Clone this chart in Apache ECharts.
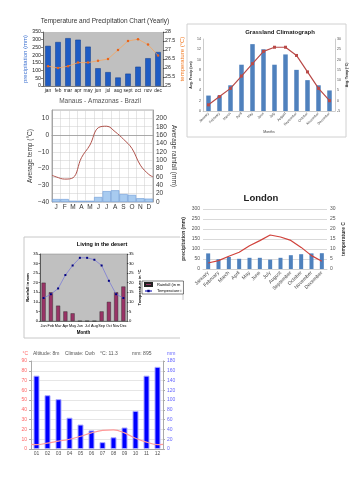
<!DOCTYPE html>
<html>
<head>
<meta charset="utf-8">
<script src="https://cdn.jsdelivr.net/npm/echarts@6/dist/echarts.min.js"></script>
<style>
html, body { margin: 0; padding: 0; background: #fff; }
#main { width: 354px; height: 500px; }
</style>
</head>
<body>
<div id="main"></div>
<script>
// chart 1 : Temperature and Precipitation Chart (Yearly)
const yearMonths = ['jan', 'feb', 'mar', 'apr', 'may', 'jun', 'jul', 'aug', 'sept', 'oct', 'nov', 'dec'];
const yearPrecip = [260, 285, 310, 300, 255, 115, 90, 55, 80, 125, 180, 220];
const yearTemp = [26.1, 26.0, 26.1, 26.3, 26.3, 26.4, 26.5, 27.0, 27.5, 27.6, 27.3, 26.7];

// chart 2 : Grassland Climatograph
const grassMonths = ['January', 'February', 'March', 'April', 'May', 'June', 'July', 'August', 'September', 'October', 'November', 'December'];
const grassPrecip = [3, 3, 5, 9, 13, 12, 9, 11, 8, 6, 5, 4];
const grassTemp = [-2, 2, 6, 12, 18, 24, 26, 26, 22, 14, 6, 0];

// chart 3 : Manaus (line runs edge to edge, so it sits on a 0..12 month scale)
const manausMonths = ['J', 'F', 'M', 'A', 'M', 'J', 'J', 'A', 'S', 'O', 'N', 'D'];
const manausRain = [7, 7, 3, 3, 3, 12, 26, 28, 19, 17, 9, 8];
const manausTempPos = [0, 0.5, 1.5, 2.5, 3.5, 4.5, 5.5, 6.5, 7.5, 8.5, 9.5, 10.5, 11.5, 12];
const manausTemp = [-24, -25, -26.3, -25.5, -13.5, -6, 4.4, 5.3, 2, -2.5, -8, -18, -23.5, -25];

// chart 4 : London
const londonMonths = ['January', 'February', 'March', 'April', 'May', 'June', 'July', 'August', 'September', 'October', 'November', 'December'];
const londonPrecip = [78, 49, 60, 51, 56, 56, 47, 56, 69, 74, 78, 79];
const londonTemp = [3.0, 4.2, 6.4, 8.4, 11.6, 14.2, 17.0, 16.0, 14.3, 10.8, 6.7, 3.9];

// chart 5 : Living in the desert
const desertMonths = ['Jan', 'Feb', 'Mar', 'Apr', 'May', 'Jun', 'Jul', 'Aug', 'Sep', 'Oct', 'Nov', 'Dec'];
const desertRain = [20, 15, 8, 5, 4, 0, 0, 0, 5, 10, 15, 18];
const desertTemp = [12, 14, 17, 24, 29, 33, 33, 32, 29, 21, 14, 12];

// chart 6 : climate diagram
const climMonths = ['01', '02', '03', '04', '05', '06', '07', '08', '09', '10', '11', '12'];
const climPrecip = [150, 110, 102, 64, 50, 38, 14, 24, 44, 78, 150, 168];
const climTempPos = [0, 0.5, 1.5, 2.5, 3.5, 4.5, 5.5, 6.5, 7.5, 8.5, 9.5, 10.5, 11.5, 12];
const climTemp = [4.8, 4.5, 6, 8, 10, 13, 16.5, 19, 19.5, 16.5, 11, 7, 4.5, 4.8];

const FONT = 'Liberation Sans';
const pairs = (xs, ys) => xs.map((x, i) => [x, ys[i]]);

function label(text, x, y, size, color, weight, align) {
	return {
		type: 'text',
		x: x,
		y: y,
		style: {
			text: text,
			font: (weight || 'normal') + ' ' + size + 'px ' + FONT,
			fill: color,
			align: align || 'center',
			verticalAlign: 'middle',
			textAlign: align || 'center',
			textVerticalAlign: 'middle',
		},
	};
}

const chart = echarts.init(document.getElementById('main'));

const option = {
	animation: false,
	textStyle: { fontFamily: FONT },
	grid: [
		{ left: 43, top: 32, width: 120, height: 54, show: true, backgroundColor: '#c0c0c0', borderWidth: 0 },
		{ left: 203, top: 39, width: 132, height: 72 },
		{ left: 52, top: 110, width: 101, height: 92, show: true, backgroundColor: '#fff', borderColor: '#999', borderWidth: 0.8 },
		{ left: 203, top: 209, width: 124, height: 60 },
		{ left: 40, top: 254, width: 87, height: 67, show: true, backgroundColor: '#c0c0c0', borderColor: '#808080', borderWidth: 0.5 },
		{ left: 31, top: 361, width: 132, height: 88 },
	],
	xAxis: [
		{
			type: 'category', gridIndex: 0, data: yearMonths,
			axisLabel: { fontSize: 4.8, margin: 2.5, interval: 0, color: '#222' },
			axisTick: { length: 2, lineStyle: { color: '#000', width: 0.5 } },
			axisLine: { lineStyle: { color: '#000', width: 0.5 } },
		},
		{
			type: 'category', gridIndex: 1, data: grassMonths,
			axisLabel: { rotate: 45, fontSize: 3.5, margin: 2, interval: 0, color: '#444' },
			axisTick: { show: false },
			axisLine: { lineStyle: { color: '#aaa', width: 0.6 } },
			name: 'Months', nameLocation: 'middle', nameGap: 18,
			nameTextStyle: { fontSize: 3.5, color: '#444' },
		},
		{
			type: 'category', gridIndex: 2, data: manausMonths,
			axisLabel: { fontSize: 6.5, margin: 2, interval: 0, color: '#333' },
			axisTick: { show: false },
			axisLine: { lineStyle: { color: '#999', width: 0.8 } },
			splitLine: { show: true, interval: 0, lineStyle: { color: '#ccc', width: 0.5 } },
		},
		{ type: 'value', gridIndex: 2, min: 0, max: 12, show: false },
		{
			type: 'category', gridIndex: 3, data: londonMonths,
			axisLabel: { rotate: 45, fontSize: 5, margin: 3, interval: 0, color: '#444' },
			axisTick: { show: false },
			axisLine: { lineStyle: { color: '#d0d0d0' } },
		},
		{
			type: 'category', gridIndex: 4, data: desertMonths,
			axisLabel: { fontSize: 3.8, margin: 3, interval: 0, color: '#000' },
			axisTick: { length: 1.5, lineStyle: { color: '#000', width: 0.5 } },
			axisLine: { lineStyle: { color: '#000', width: 0.5 } },
			name: 'Month', nameLocation: 'middle', nameGap: 9,
			nameTextStyle: { fontSize: 4.5, fontWeight: 'bold', color: '#000' },
		},
		{
			type: 'category', gridIndex: 5, data: climMonths,
			axisLabel: { fontSize: 5, margin: 2, interval: 0, color: '#555' },
			axisTick: { length: 2, interval: 0, lineStyle: { color: '#999' } },
			axisLine: { lineStyle: { color: '#aaa' } },
		},
		{ type: 'value', gridIndex: 5, min: 0, max: 12, show: false },
	],
	yAxis: [
		{
			type: 'value', gridIndex: 0, min: 0, max: 350, interval: 50,
			axisLabel: { fontSize: 5.2, margin: 2, color: '#222' },
			axisLine: { show: true, lineStyle: { color: '#000', width: 0.5 } },
			axisTick: { show: true, length: 2, lineStyle: { width: 0.5 } },
			splitLine: { show: false },
			name: 'precipitation (mm)', nameLocation: 'middle', nameGap: 15,
			nameTextStyle: { fontSize: 6, color: '#3a6fd0' },
		},
		{
			type: 'value', gridIndex: 0, position: 'right', min: 25, max: 28, interval: 0.5,
			axisLabel: { fontSize: 5.2, margin: 2, color: '#222' },
			axisLine: { show: true, lineStyle: { color: '#000', width: 0.5 } },
			axisTick: { show: true, length: 2, lineStyle: { width: 0.5 } },
			splitLine: { show: false },
			name: 'temperature (°C)', nameLocation: 'middle', nameGap: 13,
			nameTextStyle: { fontSize: 6, color: '#f07820' },
		},
		{
			type: 'value', gridIndex: 1, min: 0, max: 14, interval: 2,
			axisLabel: { fontSize: 3.5, margin: 2, color: '#444' },
			axisLine: { show: true, lineStyle: { color: '#aaa', width: 0.6 } },
			splitLine: { show: false },
			name: 'Avg. Precip (cm)', nameLocation: 'middle', nameGap: 7,
			nameTextStyle: { fontSize: 3.5, color: '#333', fontWeight: 'bold' },
		},
		{
			type: 'value', gridIndex: 1, position: 'right', min: -5, max: 30, interval: 5,
			axisLabel: { fontSize: 3.5, margin: 2, color: '#444' },
			axisLine: { show: true, lineStyle: { color: '#aaa', width: 0.6 } },
			splitLine: { show: false },
			name: 'Avg. Temp (°C)', nameLocation: 'middle', nameGap: 7,
			nameTextStyle: { fontSize: 3.5, color: '#333', fontWeight: 'bold' },
		},
		{
			type: 'value', gridIndex: 2, min: -40, max: 15, interval: 5,
			axisLabel: {
				fontSize: 6.5, margin: 3, color: '#333',
				formatter: (v) => (v % 10 === 0 && v <= 10 ? (v < 0 ? '−' + -v : String(v)) : ''),
			},
			axisLine: { show: true, lineStyle: { color: '#999', width: 0.8 } },
			axisTick: { show: false },
			splitLine: { show: true, lineStyle: { color: '#ccc', width: 0.5 } },
			name: 'Average temp (°C)', nameLocation: 'middle', nameGap: 15,
			nameTextStyle: { fontSize: 6.5, color: '#333' },
		},
		{
			type: 'value', gridIndex: 2, position: 'right', min: 0, max: 220, interval: 20,
			axisLabel: { fontSize: 6.5, margin: 3, color: '#333', formatter: (v) => (v <= 200 ? String(v) : '') },
			axisLine: { show: true, lineStyle: { color: '#999', width: 0.8 } },
			axisTick: { show: false },
			splitLine: { show: false },
			name: 'Average rainfall (mm)', nameLocation: 'middle', nameGap: 13, nameRotate: -90,
			nameTextStyle: { fontSize: 6.5, color: '#333' },
		},
		{
			type: 'value', gridIndex: 3, min: 0, max: 300, interval: 50,
			axisLabel: { fontSize: 5, margin: 3, color: '#555' },
			splitLine: { lineStyle: { color: '#d9d9d9' } },
			name: 'precipitation (mm)', nameLocation: 'middle', nameGap: 17,
			nameTextStyle: { fontSize: 5, color: '#333', fontWeight: 'bold' },
		},
		{
			type: 'value', gridIndex: 3, position: 'right', min: 0, max: 30, interval: 5,
			axisLabel: { fontSize: 5, margin: 3, color: '#555' },
			splitLine: { show: false },
			name: 'temperature C', nameLocation: 'middle', nameGap: 14,
			nameTextStyle: { fontSize: 5, color: '#333', fontWeight: 'bold' },
		},
		{
			type: 'value', gridIndex: 4, min: 0, max: 35, interval: 5,
			axisLabel: { fontSize: 4.2, margin: 2, color: '#000' },
			axisLine: { show: true, lineStyle: { color: '#000', width: 0.5 } },
			axisTick: { show: true, length: 1.5, lineStyle: { width: 0.5 } },
			splitLine: { show: false },
			name: 'Rainfall in mm', nameLocation: 'middle', nameGap: 7,
			nameTextStyle: { fontSize: 4.2, color: '#000', fontWeight: 'bold' },
		},
		{
			type: 'value', gridIndex: 4, position: 'right', min: 0, max: 35, interval: 5,
			axisLabel: { fontSize: 4.2, margin: 2, color: '#000' },
			axisLine: { show: true, lineStyle: { color: '#000', width: 0.5 } },
			axisTick: { show: true, length: 1.5, lineStyle: { width: 0.5 } },
			splitLine: { show: false },
			name: 'Temperature in °C', nameLocation: 'middle', nameGap: 6,
			nameTextStyle: { fontSize: 4.2, color: '#000', fontWeight: 'bold' },
		},
		{
			type: 'value', gridIndex: 5, min: 0, max: 90, interval: 10,
			axisLabel: { fontSize: 5, margin: 4, color: '#ff6666' },
			axisLine: { show: true, lineStyle: { color: '#aaa' } },
			axisTick: { show: true, length: 2, lineStyle: { color: '#aaa' } },
			splitLine: { lineStyle: { color: '#e6e6e6' } },
			name: '°C', nameLocation: 'end', nameGap: 5,
			nameTextStyle: { fontSize: 5, color: '#ff6666', align: 'right', padding: [0, 3, 0, 0] },
		},
		{
			type: 'value', gridIndex: 5, position: 'right', min: 0, max: 180, interval: 20,
			axisLabel: { fontSize: 5, margin: 4, color: '#6666ff' },
			axisLine: { show: true, lineStyle: { color: '#aaa' } },
			axisTick: { show: true, length: 2, lineStyle: { color: '#aaa' } },
			splitLine: { show: false },
			name: 'mm', nameLocation: 'end', nameGap: 5,
			nameTextStyle: { fontSize: 5, color: '#6666ff', align: 'left', padding: [0, 0, 0, 4] },
		},
	],
	legend: {
		left: 142, top: 281, orient: 'vertical',
		itemWidth: 7, itemHeight: 3, itemGap: 2, padding: [1, 2, 1, 2],
		backgroundColor: '#fff', borderColor: '#000', borderWidth: 0.5,
		textStyle: { fontSize: 4, color: '#000', width: 26, overflow: 'truncate', ellipsis: '' },
		data: [{ name: 'Rainfall (in mm)', icon: 'rect' }, { name: 'Temperature in °C' }],
	},
	series: [
		{
			type: 'bar', name: 'yearPrecip', xAxisIndex: 0, yAxisIndex: 0, data: yearPrecip, barWidth: 5.5,
			itemStyle: { color: '#1f5cc4', borderColor: '#0d3a8a', borderWidth: 0.5 },
		},
		{
			type: 'line', name: 'yearTemp', xAxisIndex: 0, yAxisIndex: 1, data: yearTemp,
			symbol: 'circle', symbolSize: 2.5,
			lineStyle: { color: '#f4a460', width: 0.8 }, itemStyle: { color: '#e8641b' },
		},
		{
			type: 'bar', name: 'grassPrecip', xAxisIndex: 1, yAxisIndex: 2, data: grassPrecip, barWidth: 4.5,
			itemStyle: { color: '#4f81bd' },
		},
		{
			type: 'line', name: 'grassTemp', xAxisIndex: 1, yAxisIndex: 3, data: grassTemp,
			symbol: 'rect', symbolSize: 3,
			lineStyle: { color: '#b94a48', width: 1.2 }, itemStyle: { color: '#b94a48' },
		},
		{
			type: 'bar', name: 'manausRain', xAxisIndex: 2, yAxisIndex: 5, data: manausRain, barCategoryGap: '0%',
			itemStyle: { color: '#a8cbf0', borderColor: '#6b9bd6', borderWidth: 0.6 },
		},
		{
			type: 'line', name: 'manausTemp', xAxisIndex: 3, yAxisIndex: 4, data: pairs(manausTempPos, manausTemp),
			smooth: 0.4, showSymbol: false, lineStyle: { color: '#b0524b', width: 1 },
		},
		{
			type: 'bar', name: 'londonPrecip', xAxisIndex: 4, yAxisIndex: 6, data: londonPrecip, barWidth: 4,
			itemStyle: { color: '#4f81bd' },
		},
		{
			type: 'line', name: 'londonTemp', xAxisIndex: 4, yAxisIndex: 7, data: londonTemp,
			showSymbol: false, lineStyle: { color: '#d0413a', width: 1.2 },
		},
		{
			type: 'bar', name: 'Rainfall (in mm)', xAxisIndex: 5, yAxisIndex: 8, data: desertRain, barWidth: 4,
			itemStyle: { color: '#993366', borderColor: '#222', borderWidth: 0.4 },
		},
		{
			type: 'line', name: 'Temperature in °C', xAxisIndex: 5, yAxisIndex: 9, data: desertTemp,
			symbol: 'rect', symbolSize: 2,
			lineStyle: { color: '#7d7dd6', width: 0.8 }, itemStyle: { color: '#000080' },
		},
		{
			type: 'bar', name: 'climPrecip', xAxisIndex: 6, yAxisIndex: 11, data: climPrecip, barWidth: 6,
			itemStyle: { color: '#0000ff', borderColor: '#aaaaff', borderWidth: 1 },
		},
		{
			type: 'line', name: 'climTemp', xAxisIndex: 7, yAxisIndex: 10, data: pairs(climTempPos, climTemp),
			smooth: 0.4, showSymbol: false, lineStyle: { color: '#ff9999', width: 1.2 },
		},
	],
	graphic: [
		label('Temperature and Precipitation Chart (Yearly)', 105, 21, 6.5, '#333'),
		label('Grassland Climatograph', 280, 32, 6, '#222', 'bold'),
		label('Manaus - Amazonas - Brazil', 100, 101, 6.5, '#555'),
		label('London', 261, 198, 9.5, '#222', 'bold'),
		label('Living in the desert', 102, 244, 5.5, '#000', 'bold'),
		label('Altitude: 8m', 33, 354, 5, '#555', 'normal', 'left'),
		label('Climate: Cwb', 65, 354, 5, '#555', 'normal', 'left'),
		label('°C: 11.3', 100, 354, 5, '#555', 'normal', 'left'),
		label('mm: 895', 132, 354, 5, '#555', 'normal', 'left'),
		{
			type: 'rect', shape: { x: 187, y: 24, width: 159, height: 113 },
			style: { fill: 'none', stroke: '#d0d0d0', lineWidth: 1 },
		},
		{
			type: 'polyline', shape: { points: [[180, 237], [24, 237], [24, 338], [180, 338]] },
			style: { fill: 'none', stroke: '#c8c8c8', lineWidth: 1 },
		},
		{
			type: 'line', shape: { x1: 183, y1: 290, x2: 183, y2: 300 },
			style: { stroke: '#ccc', lineWidth: 1 },
		},
	],
};

chart.setOption(option);
</script>
</body>
</html>
